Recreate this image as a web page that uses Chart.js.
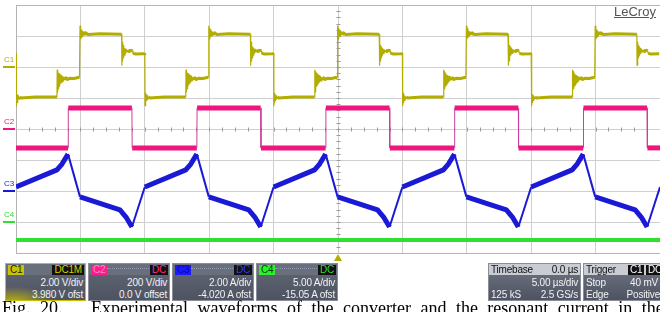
<!DOCTYPE html>
<html>
<head>
<meta charset="utf-8">
<script src="https://cdn.jsdelivr.net/npm/chart.js@4/dist/chart.umd.min.js"></script>
<style>
  html, body { margin: 0; padding: 0; background: #fff; width: 660px; height: 312px; overflow: hidden; }
  #scope { position: absolute; left: 0; top: 0; }
  .logo { position: absolute; left: 614px; top: 4px; font: 13px "Liberation Sans", Arial, sans-serif; color: #555; text-decoration: underline; }
  .panel { position: absolute; top: 263px; height: 38px; border: 1px solid #8a8e98; box-sizing: border-box;
           background: linear-gradient(#6a6f7c 0%, #6a6f7c 30%, #5c6170 31%, #4e5362 100%);
           font: 10px "Liberation Sans", Arial, sans-serif; color: #f2f2f2; letter-spacing: -0.2px; }
  .panel .dots { position: absolute; left: 18px; right: 18px; top: 4px; border-top: 1px dotted #8f99b0; }
  .badge { position: absolute; top: 1px; height: 10px; line-height: 10px; padding: 0 2px; font-size: 10px; }
  .badge.l { left: 2px; }
  .badge.r { right: 1px; background: #111; }
  .row { position: absolute; right: 2px; white-space: nowrap; }
  .row.r2 { top: 13px; }
  .row.r3 { top: 25px; }
  .lft { position: absolute; left: 2px; white-space: nowrap; }
  .caption { position: absolute; left: 2px; top: 299px; font: 18px "Liberation Serif", "Times New Roman", serif; line-height: 18px; color: #000; white-space: nowrap; word-spacing: 5px; }
</style>
</head>
<body>
<canvas id="scope" width="660" height="312"></canvas>
<div class="logo">LeCroy</div>

<div class="panel" style="left:5px;width:81px;border:1px solid #c8c000;background:radial-gradient(ellipse 70% 60% at 10% 105%, rgba(205,195,0,0.85), rgba(205,195,0,0) 70%), linear-gradient(#6a6f7c 0%, #6a6f7c 30%, #5c6170 31%, #4e5362 100%);">
  <div class="badge l" style="background:#c9c200;color:#222;">C1</div>
  <div class="badge r" style="color:#d6d000;">DC1M</div>
  <div class="row r2">2.00 V/div</div>
  <div class="row r3">3.980 V ofst</div>
</div>
<div class="panel" style="left:88px;width:82px;">
  <div class="dots"></div>
  <div class="badge l" style="background:#ff1d8e;color:#ff8ac4;">C2</div>
  <div class="badge r" style="color:#ff2a95;">DC</div>
  <div class="row r2">200 V/div</div>
  <div class="row r3">0.0 V offset</div>
</div>
<div class="panel" style="left:172px;width:82px;">
  <div class="dots"></div>
  <div class="badge l" style="background:#1a1aff;color:#0b0b9a;">C3</div>
  <div class="badge r" style="color:#3a3aff;">DC</div>
  <div class="row r2">2.00 A/div</div>
  <div class="row r3">-4.020 A ofst</div>
</div>
<div class="panel" style="left:256px;width:82px;">
  <div class="dots"></div>
  <div class="badge l" style="background:#2cf02c;color:#0a3a0a;">C4</div>
  <div class="badge r" style="color:#2ee62e;">DC</div>
  <div class="row r2">5.00 A/div</div>
  <div class="row r3">-15.05 A ofst</div>
</div>
<div class="panel" style="left:488px;width:93px;background:linear-gradient(#c9ccd3 0%, #c9ccd3 30%, #666b79 31%, #4e5362 100%);">
  <div class="lft" style="top:0px;color:#111;">Timebase</div>
  <div class="row" style="top:0px;color:#111;">0.0 µs</div>
  <div class="row r2">5.00 µs/div</div>
  <div class="lft" style="top:25px;">125 kS</div>
  <div class="row r3">2.5 GS/s</div>
</div>
<div class="panel" style="left:583px;width:82px;background:linear-gradient(#c9ccd3 0%, #c9ccd3 30%, #666b79 31%, #4e5362 100%);">
  <div class="lft" style="top:0px;color:#111;">Trigger</div>
  <div class="badge" style="left:44px;background:#111;color:#fff;">C1</div>
  <div class="badge" style="left:62px;background:#111;color:#fff;">DC</div>
  <div class="lft" style="top:13px;">Stop</div>
  <div class="row r2" style="right:6px;">40 mV</div>
  <div class="lft" style="top:25px;">Edge</div>
  <div class="row r3" style="right:4px;">Positive</div>
</div>

<div class="caption">Fig. 20.&nbsp;&nbsp;&nbsp;Experimental waveforms of the converter and the resonant current in the boost mode.</div>

<script>
// screen is 10 div x 5 us wide, 8 div tall; values below are in screen divisions
const periodUs = 10;
const periodCount = 5;

// C1 – one switching period (incl. ringing after each edge)
const c1Times = [0, 0.02, 0.05, 0.08, 0.11, 0.15, 0.19, 0.24, 0.30, 0.40, 1.50,
                 3.18, 3.20, 3.22, 3.25, 3.28, 3.31, 3.34, 3.37, 3.41, 3.45, 3.49, 3.53, 3.58, 3.63, 3.69, 3.75, 3.82, 3.90, 4.00, 4.20, 4.50, 4.93,
                 4.97, 5.00, 5.03, 5.06, 5.09, 5.13, 5.17, 5.22, 5.28, 5.35, 5.43, 5.60, 6.50,
                 8.20, 8.22, 8.25, 8.28, 8.31, 8.34, 8.38, 8.42, 8.46, 8.51, 8.57, 8.63, 8.70, 8.80, 8.95, 9.05, 9.08, 9.30, 9.94];
const c1Levels = [2.45, 0.75, 1.15, 0.85, 1.10, 0.92, 1.07, 0.96, 1.04, 1.00, 1.03,
                  1.03, 1.90, 1.20, 1.85, 1.30, 1.80, 1.38, 1.78, 1.42, 1.74, 1.48, 1.72, 1.52, 1.70, 1.55, 1.67, 1.58, 1.65, 1.60, 1.64, 1.63, 1.67,
                  3.32, 2.90, 3.25, 2.95, 3.20, 2.98, 3.16, 3.01, 3.13, 3.03, 3.10, 3.05, 3.07,
                  3.06, 2.06, 2.80, 2.20, 2.70, 2.30, 2.64, 2.38, 2.60, 2.44, 2.57, 2.48, 2.55, 2.50, 2.54, 2.52, 2.44, 2.42, 2.43];

// C2 – gate pulse
const c2Times = [0, 4.04, 4.06, 9.00, 9.02, 10];
const c2Levels = [-0.61, -0.61, 0.68, 0.68, -0.61, -0.61];

// C3 – inductor current
const c3Times = [0, 3.18, 3.57, 4.04, 4.97, 8.07, 8.54, 9.00, 10];
const c3Levels = [-1.87, -1.32, -1.13, -0.81, -2.19, -2.61, -2.84, -3.16, -1.87];

// C4 – flat over the whole screen
const c4Times = [0, 50];
const c4Levels = [-3.58, -3.58];

const chNames = ['C1', 'C2', 'C3', 'C4'];
const chGround = [2, 0, -2, -3];
const chColors = ['#b3ad00', '#f0147f', '#1a1ad6', '#2fe02f'];
const triggerUs = 25;

function tile(times, levels) {
  const pts = [];
  for (let k = 0; k < periodCount; k++) {
    times.forEach((t, i) => pts.push({ x: t + k * periodUs, y: levels[i] }));
  }
  return pts;
}

function steep(c) {
  return Math.abs(c.p1.y - c.p0.y) > 2.2 * Math.abs(c.p1.x - c.p0.x);
}

// thin line on steep edges, wide (noisy) band on the flat parts
function edgeWidth(thin, wide) {
  return c => steep(c) ? thin : wide;
}

const scopeDecor = {
  id: 'scopeDecor',
  beforeDatasetsDraw(chart) {
    const { ctx, chartArea: a, scales: { x, y } } = chart;
    ctx.save();
    // centre cross ticks
    ctx.strokeStyle = '#9a9a9a';
    ctx.lineWidth = 1;
    const cx = Math.round(x.getPixelForValue(25)) + 0.5;
    const cy = Math.round(y.getPixelForValue(0)) + 0.5;
    ctx.beginPath();
    for (let t = 0; t <= 50; t += 1) {
      const px = Math.round(x.getPixelForValue(t)) + 0.5;
      ctx.moveTo(px, cy - 2); ctx.lineTo(px, cy + 2);
    }
    for (let v = -4; v <= 4; v += 0.2) {
      const py = Math.round(y.getPixelForValue(v)) + 0.5;
      ctx.moveTo(cx - 2, py); ctx.lineTo(cx + 2, py);
    }
    ctx.stroke();
    // frame
    ctx.strokeStyle = '#b4b4b4';
    ctx.strokeRect(a.left + 0.5, a.top + 0.5, a.right - a.left + 2, a.bottom - a.top);
    ctx.restore();
  },
  afterDraw(chart) {
    const { ctx, scales: { x, y } } = chart;
    ctx.save();
    ctx.font = '8px "Liberation Sans", Arial, sans-serif';
    ctx.textBaseline = 'bottom';
    chNames.forEach((n, i) => {
      const py = y.getPixelForValue(chGround[i]);
      ctx.fillStyle = chColors[i];
      ctx.fillText(n, 4, py - 3);
      ctx.fillRect(3, py - 1, 12, 2);
    });
    // trigger marker
    const tx = x.getPixelForValue(triggerUs);
    ctx.fillStyle = '#b3ad00';
    ctx.beginPath();
    ctx.moveTo(tx, 254); ctx.lineTo(tx - 4, 261); ctx.lineTo(tx + 4, 261); ctx.closePath();
    ctx.fill();
    ctx.restore();
  }
};

new Chart(document.getElementById('scope'), {
  type: 'line',
  data: {
    datasets: [
      { data: c4Times.map((t, i) => ({ x: t, y: c4Levels[i] })), borderColor: chColors[3], borderWidth: 4 },
      { data: tile(c3Times, c3Levels), borderColor: chColors[2], borderWidth: 5,
        segment: { borderWidth: edgeWidth(2, 5) } },
      { data: tile(c2Times, c2Levels), borderColor: chColors[1], borderWidth: 5,
        segment: { borderWidth: edgeWidth(1, 5), borderColor: c => steep(c) ? '#c8409a' : chColors[1] } },
      { data: tile(c1Times, c1Levels), borderColor: chColors[0], borderWidth: 3,
        segment: { borderWidth: edgeWidth(1.2, 3) } }
    ]
  },
  options: {
    responsive: false,
    animation: false,
    parsing: false,
    layout: { padding: { left: 16, top: 5, right: 0, bottom: 59 } },
    elements: { point: { radius: 0 }, line: { tension: 0, borderJoinStyle: 'round' } },
    plugins: { legend: { display: false }, tooltip: { enabled: false } },
    scales: {
      x: {
        type: 'linear', min: 0, max: 50,
        ticks: { display: false, stepSize: 5 },
        grid: { color: '#cfcfcf', drawTicks: false },
        border: { display: false },
        afterFit: s => { s.height = 0; }
      },
      y: {
        type: 'linear', min: -4, max: 4,
        ticks: { display: false, stepSize: 1 },
        grid: { color: '#cfcfcf', drawTicks: false },
        border: { display: false },
        afterFit: s => { s.width = 0; }
      }
    }
  },
  plugins: [scopeDecor]
});
</script>
</body>
</html>
